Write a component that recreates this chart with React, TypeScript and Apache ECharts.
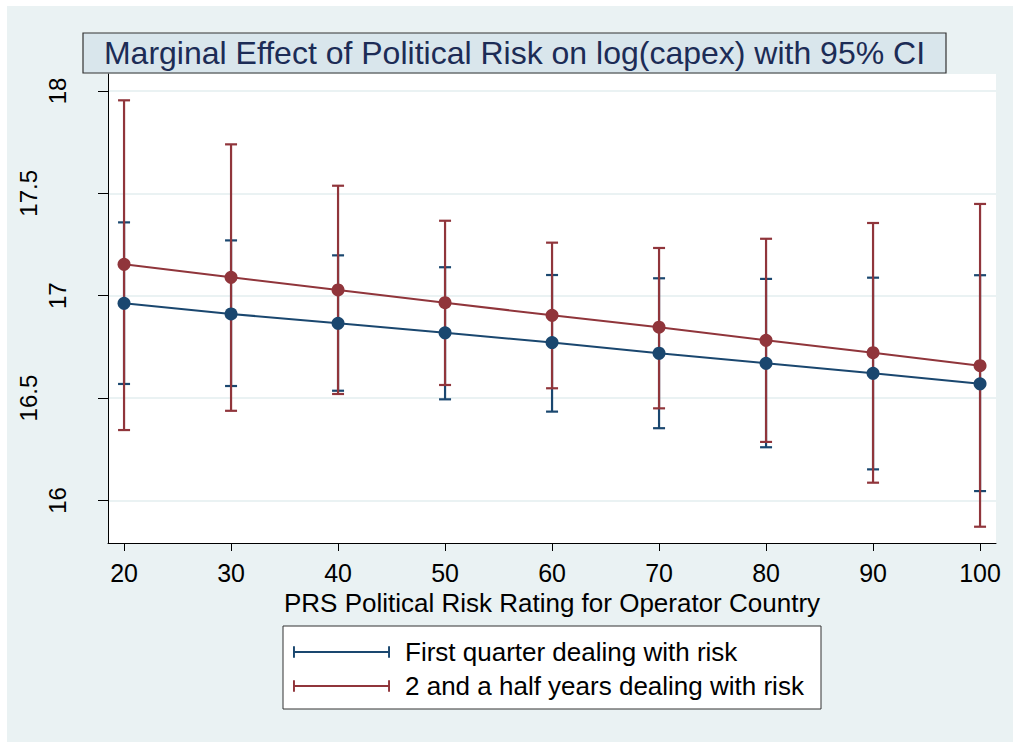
import React, { useEffect, useRef } from "react";
import * as echarts from "echarts";

const xValues = [20, 30, 40, 50, 60, 70, 80, 90, 100];
const xTicks = [20, 30, 40, 50, 60, 70, 80, 90, 100];
const yTicksMain = [16, 17, 18];
const yTicksAlt = [16.5, 17.5];
const yGrid = [16, 16.5, 17, 17.5, 18];

const seriesNames = ["First quarter dealing with risk", "2 and a half years dealing with risk"];

const blueMean = [16.963, 16.911, 16.865, 16.819, 16.771, 16.719, 16.67, 16.621, 16.57];
const blueLow = [16.569, 16.559, 16.536, 16.494, 16.434, 16.353, 16.26, 16.152, 16.046];
const blueHigh = [17.358, 17.27, 17.197, 17.139, 17.101, 17.085, 17.082, 17.088, 17.1];

const redMean = [17.153, 17.09, 17.028, 16.966, 16.904, 16.846, 16.782, 16.722, 16.658];
const redLow = [16.344, 16.438, 16.52, 16.564, 16.548, 16.45, 16.286, 16.087, 15.872];
const redHigh = [17.954, 17.739, 17.537, 17.366, 17.259, 17.233, 17.278, 17.355, 17.448];

const BLUE = "#1A476F";
const RED = "#90353B";
const BG = "#EAF2F3";

const legendIcon = "path://M0,0h2v5h96v-5h2v12h-2v-5h-96v5h-2z";

function errorBarSeries(name: string, color: string, low: number[], high: number[]) {
  return {
    name,
    type: "custom",
    z: 2,
    data: xValues.map((x, i) => [x, low[i], high[i]]),
    encode: { x: 0, y: [1, 2] },
    renderItem: (params: any, api: any) => {
      const x = api.value(0);
      const lo = api.coord([x, api.value(1)]);
      const hi = api.coord([x, api.value(2)]);
      const cap = 6;
      const style = { stroke: color, lineWidth: 2.2 };
      return {
        type: "group",
        children: [
          { type: "line", shape: { x1: lo[0], y1: lo[1], x2: hi[0], y2: hi[1] }, style },
          { type: "line", shape: { x1: lo[0] - cap, y1: lo[1], x2: lo[0] + cap, y2: lo[1] }, style },
          { type: "line", shape: { x1: hi[0] - cap, y1: hi[1], x2: hi[0] + cap, y2: hi[1] }, style },
        ],
      };
    },
  };
}

function lineSeries(name: string, color: string, mean: number[]) {
  return {
    name,
    type: "line",
    z: 3,
    data: xValues.map((x, i) => [x, mean[i]]),
    symbol: "circle",
    symbolSize: 13,
    lineStyle: { color, width: 2 },
    itemStyle: { color },
  };
}

export default function App() {
  const ref = useRef<HTMLDivElement>(null);
  useEffect(() => {
    if (!ref.current) return;
    const chart = echarts.init(ref.current, null, { renderer: "svg" });
    const font = "'Liberation Sans', Arial, Helvetica, sans-serif";
    chart.setOption({
      animation: false,
      backgroundColor: BG,
      textStyle: { fontFamily: font },
      grid: {
        left: 101,
        top: 68,
        right: 17,
        bottom: 199,
        show: true,
        backgroundColor: "#fff",
        borderWidth: 0,
      },
      xAxis: {
        type: "value",
        min: 18.5,
        max: 101.49,
        axisLine: { show: true, lineStyle: { color: "#000", width: 1 } },
        axisTick: { show: true, length: 8, customValues: xTicks, lineStyle: { color: "#000" } },
        axisLabel: { customValues: xTicks, fontSize: 25, color: "#000", margin: 17, fontFamily: font },
        splitLine: { show: false },
        name: "PRS Political Risk Rating for Operator Country",
        nameLocation: "middle",
        nameGap: 44,
        nameTextStyle: { fontSize: 26, color: "#000", fontFamily: font },
      },
      yAxis: [
        {
          type: "value",
          min: 15.7925,
          max: 18.0825,
          axisLine: { show: true, lineStyle: { color: "#000", width: 1 } },
          axisTick: { show: true, length: 10, customValues: yGrid, lineStyle: { color: "#000" } },
          axisLabel: { customValues: yTicksMain, fontSize: 24, color: "#000", rotate: 90, margin: 39, fontFamily: font },
          splitLine: { show: true, lineStyle: { color: BG, width: 2 } },
        },
        {
          type: "value",
          position: "left",
          min: 15.7925,
          max: 18.0825,
          axisLine: { show: false },
          axisTick: { show: false },
          axisLabel: { customValues: yTicksAlt, fontSize: 24, color: "#000", rotate: 90, margin: 68, fontFamily: font },
          splitLine: { show: false },
        },
      ],
      legend: {
        left: 281,
        top: 628,
        orient: "vertical",
        itemWidth: 97,
        itemHeight: 12,
        itemGap: 8,
        textStyle: { fontSize: 26, color: "#000", fontFamily: font, padding: [0, 0, 0, 10] },
        data: [
          { name: seriesNames[0], icon: legendIcon, itemStyle: { color: BLUE } },
          { name: seriesNames[1], icon: legendIcon, itemStyle: { color: RED } },
        ],
        selectedMode: false,
      },
      graphic: [
        {
          type: "rect",
          shape: { x: 276, y: 620, width: 538, height: 83 },
          style: { fill: "#fff", stroke: "#333", lineWidth: 1 },
          z: -1,
        },
        {
          type: "rect",
          shape: { x: 76, y: 27, width: 863, height: 40 },
          style: { fill: "#D9E6EC", stroke: "#333", lineWidth: 1.2 },
          z: 10,
        },
        {
          type: "text",
          x: 507.5,
          y: 47,
          z: 11,
          style: {
            text: "Marginal Effect of Political Risk on log(capex) with 95% CI",
            fontSize: 32,
            fontFamily: font,
            fill: "#1C2C56",
            align: "center",
            verticalAlign: "middle",
          },
        },
      ],
      series: [
        errorBarSeries(seriesNames[0], BLUE, blueLow, blueHigh),
        errorBarSeries(seriesNames[1], RED, redLow, redHigh),
        lineSeries(seriesNames[0], BLUE, blueMean),
        lineSeries(seriesNames[1], RED, redMean),
      ],
    });
    return () => chart.dispose();
  }, []);
  return (
    <div
      ref={ref}
      style={{ position: "absolute", left: 7, top: 6, width: 1006, height: 736 }}
    />
  );
}
